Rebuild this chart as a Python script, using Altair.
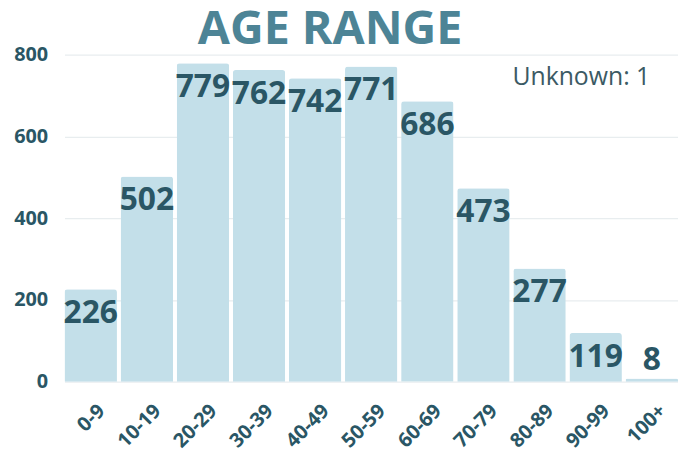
import altair as alt
import pandas as pd

ranges = ["0-9", "10-19", "20-29", "30-39", "40-49", "50-59", "60-69", "70-79", "80-89", "90-99", "100+"]
counts = [226, 502, 779, 762, 742, 771, 686, 473, 277, 119, 8]
unknown_note = "Unknown: 1"
title_text = "AGE RANGE"
y_ticks = [0, 200, 400, 600, 800]

df = pd.DataFrame({"range": ranges, "count": counts})

TEXT = "#2a5665"
FONT = "Open Sans"

x = alt.X("range:N", sort=ranges, title=None,
          scale=alt.Scale(paddingInner=0.065, paddingOuter=0),
          axis=alt.Axis(labelAngle=-45, labelFontSize=20, labelFontWeight="bold",
                        labelColor=TEXT, labelFont=FONT, ticks=False, domain=False,
                        labelPadding=19, labelOffset=4))
y = alt.Y("count:Q", title=None,
          scale=alt.Scale(domain=[0, 800], nice=False),
          axis=alt.Axis(values=y_ticks, labelFontSize=20, labelFontWeight="bold",
                        labelColor=TEXT, labelFont=FONT, ticks=False, domain=False,
                        labelPadding=17, gridColor="#e8edef", gridWidth=1.2))

base = alt.Chart(df)

bars = base.mark_bar(color="#c3dfe9", cornerRadiusTopLeft=3, cornerRadiusTopRight=3).encode(x=x, y=y)

labels = base.transform_calculate(
    label_y="max(datum.count, 111)"
).mark_text(font=FONT, fontSize=32, fontWeight="bold", color=TEXT,
            baseline="alphabetic", dy=34).encode(
    x=alt.X("range:N", sort=ranges),
    y=alt.Y("label_y:Q"),
    text="count:Q",
)

note = alt.Chart(pd.DataFrame({"t": [unknown_note]})).mark_text(
    font=FONT, fontSize=25, color="#3b5a64", align="right", baseline="alphabetic"
).encode(x=alt.value(591), y=alt.value(31), text="t:N")

title = alt.Chart(pd.DataFrame({"t": [title_text]})).mark_text(
    font=FONT, fontSize=47, fontWeight="bold", color="#4d8496",
    align="center", baseline="alphabetic"
).encode(x=alt.value(268), y=alt.value(-11), text="t:N")

chart = alt.layer(bars, labels, note, title).properties(
    width=619, height=330,
    autosize=alt.AutoSizeParams(type="none"),
    padding={"left": 57, "top": 45, "right": 0, "bottom": 70},
).configure_view(stroke=None)

chart.save("out.html", embed_options={"renderer": "svg", "actions": False})
